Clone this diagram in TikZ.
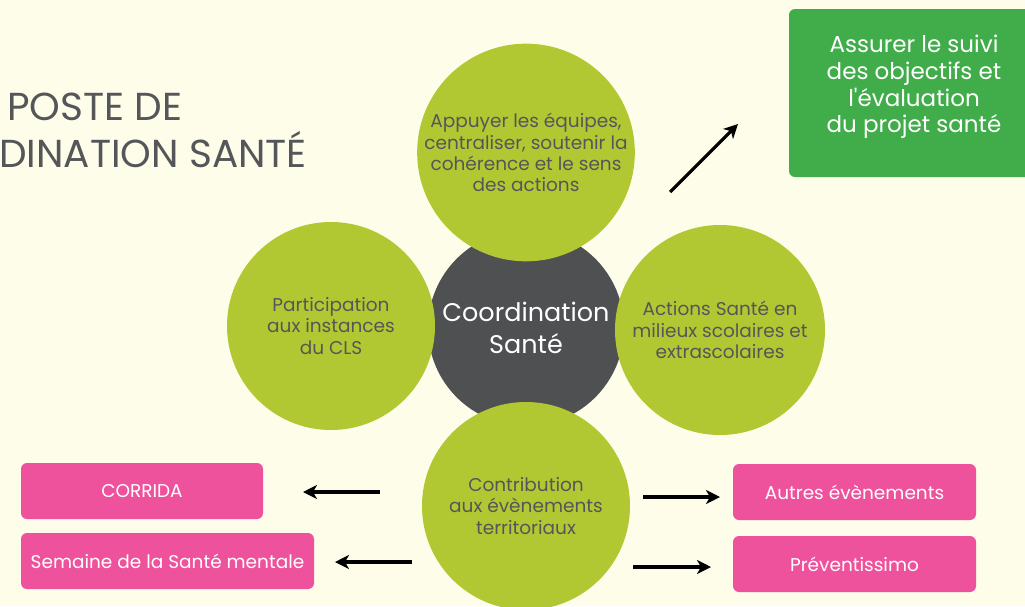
\documentclass[tikz,border=0pt]{standalone}
\usepackage{fontspec}
\setmainfont{Poppins}
\usetikzlibrary{arrows.meta}
\definecolor{paper}{HTML}{FEFDEA}
\definecolor{leaf}{HTML}{B2C833}
\definecolor{slate}{HTML}{4F5052}
\definecolor{ink}{HTML}{55565A}
\definecolor{goalgreen}{HTML}{40AD4A}
\definecolor{rose}{HTML}{EE529C}
\begin{document}
\begin{tikzpicture}[x=1pt,y=-1pt,
  hubstyle/.style={circle, fill=slate, minimum size=196pt, inner sep=0pt,
    text=white, align=center, font=\fontsize{25.5}{32}\selectfont},
  petal/.style={circle, fill=leaf, minimum size=208pt, inner sep=0pt,
    text=ink, align=center, font=\fontsize{18.5}{21.3}\selectfont},
  titletext/.style={inner sep=0pt, text=ink, font=\fontsize{39}{47}\selectfont},
  goalbox/.style={fill=goalgreen, rounded corners=6pt, minimum width=250pt,
    minimum height=168pt, inner sep=0pt},
  goaltext/.style={text=white, align=center, inner sep=0pt,
    font=\fontsize{23}{26.7}\selectfont},
  eventbox/.style={fill=rose, rounded corners=6pt, minimum height=56pt,
    inner sep=0pt, text=white, font=\fontsize{18.5}{22}\selectfont},
  link/.style={line width=3.2pt, -{Stealth[length=14pt,width=14pt,inset=4pt]}}
]
\useasboundingbox (0,0) rectangle (1025,606);
\clip (0,0) rectangle (1025,606);
\fill[paper] (0,0) rectangle (1025,606);

% heading
\node[titletext, anchor=base west] (head1) at (7,120) {POSTE DE};
\node[titletext, anchor=base west] (head2) at (-1,167) {DINATION SANTÉ};

% central hub and the four missions around it
\node[hubstyle] (hub) at (526,328) {Coordination\\Santé};
\node[petal, minimum size=209pt] (appui) at (526,152.5)
  {Appuyer les équipes,\\centraliser, soutenir la\\cohérence et le sens\\des actions};
\node[petal] (cls) at (331,326) {Participation\\aux instances\\du CLS};
\node[petal, minimum size=210pt] (scol) at (720,330)
  {Actions Santé en\\milieux scolaires et\\extrascolaires};
\node[petal] (events) at (526,506) {Contribution\\aux évènements\\territoriaux};

% follow-up box
\node[goalbox] (goal) at (914,93) {};
\node[goaltext] (goaltxt) at ([yshift=6pt]goal.center)
  {Assurer le suivi\\des objectifs et\\l\textquotesingle évaluation\\du projet santé};

% territorial events
\node[eventbox, minimum width=242pt] (corrida) at (142,491) {CORRIDA};
\node[eventbox, minimum width=293pt] (semaine) at (167.5,561) {Semaine de la Santé mentale};
\node[eventbox, minimum width=243pt] (autres) at (854.5,492) {Autres évènements};
\node[eventbox, minimum width=243pt] (prev) at (854.5,564) {Préventissimo};

% arrow ends
\coordinate (d0) at (670,192);
\coordinate (d1) at (738,124);
\coordinate (c0) at (380,492);
\coordinate (c1) at (303,492);
\coordinate (s0) at (412,562);
\coordinate (s1) at (335,562);
\coordinate (a0) at (643,497);
\coordinate (a1) at (720,497);
\coordinate (p0) at (633,567);
\coordinate (p1) at (711,567);

\draw[link] (d0) -- (d1);
\draw[link] (c0) -- (c1);
\draw[link] (s0) -- (s1);
\draw[link] (a0) -- (a1);
\draw[link] (p0) -- (p1);
\end{tikzpicture}
\end{document}
